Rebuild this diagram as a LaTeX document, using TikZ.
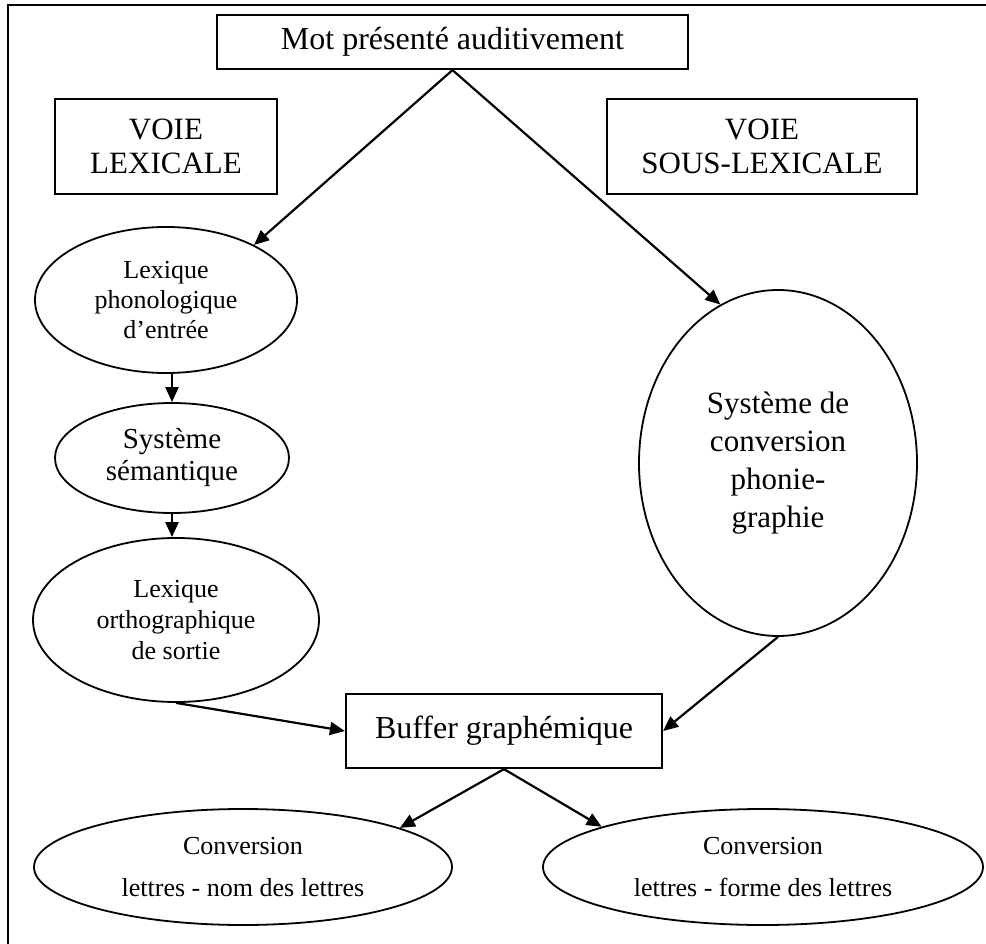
\documentclass[tikz,border=0pt]{standalone}
\usepackage{fontspec}
\setmainfont{Liberation Serif}
\usetikzlibrary{shapes.geometric,arrows.meta}

\begin{document}
\begin{tikzpicture}[x=1pt,y=-1pt,line width=2.2pt,
	boite/.style={draw,rectangle,inner sep=0pt,align=center},
	bulle/.style={draw,ellipse,inner sep=0pt,align=center,line width=1.8pt},
	fleche/.style={-{Triangle[length=15pt,width=13pt]},line width=2.2pt}]
		\useasboundingbox (0,0) rectangle (986,944);
		\draw[line width=2.6pt] (986,5) -- (8,5) -- (8,944);
		\node[boite,minimum width=471pt,minimum height=54pt,font=\fontsize{32}{36}\selectfont] (mot) at (452.5,42) {Mot présenté auditivement};
		\node[boite,minimum width=222pt,minimum height=95pt,font=\fontsize{31}{34}\selectfont] (voiel) at (166,146.5) {VOIE\\LEXICALE};
		\node[boite,minimum width=310pt,minimum height=95pt,font=\fontsize{31}{34}\selectfont] (voies) at (762,146.5) {VOIE\\SOUS-LEXICALE};
		\node[bulle,minimum width=262pt,minimum height=146pt,font=\fontsize{26}{30}\selectfont] (lexp) at (166,300) {Lexique\\phonologique\\d’entrée};
		\node[bulle,minimum width=234pt,minimum height=110pt,font=\fontsize{29}{32}\selectfont] (sem) at (172,458) {Système\\sémantique};
		\node[bulle,minimum width=286pt,minimum height=164pt,font=\fontsize{26}{31}\selectfont] (lexo) at (176,620) {Lexique\\orthographique\\de sortie};
		\node[bulle,minimum width=278pt,minimum height=346pt,font=\fontsize{31}{38}\selectfont] (conv) at (778,463) {Système de\\conversion\\phonie-\\graphie};
		\node[boite,minimum width=316pt,minimum height=74pt,font=\fontsize{32}{36}\selectfont] (buf) at (504,731) {Buffer graphémique};
		\node[bulle,minimum width=418pt,minimum height=116pt,font=\fontsize{26}{42}\selectfont] (nom) at (243,867) {Conversion\\lettres - nom des lettres};
		\node[bulle,minimum width=440pt,minimum height=116pt,font=\fontsize{26}{42}\selectfont] (forme) at (763,867) {Conversion\\lettres - forme des lettres};
		\draw[fleche] (mot.south) -- (lexp.32);
		\draw[fleche] (mot.south) -- (conv.110);
		\draw[fleche] (sem.north |- lexp.south) -- (sem.north);
		\draw[fleche] (sem.south) -- (sem.south |- lexo.north);
		\draw[fleche] (lexo.south) -- (buf.west);
		\draw[fleche] (conv.south) -- (buf.east);
		\draw[fleche] (buf.south) -- (nom.14);
		\draw[fleche] (buf.south) -- (forme.166);
	\end{tikzpicture}
\end{document}
